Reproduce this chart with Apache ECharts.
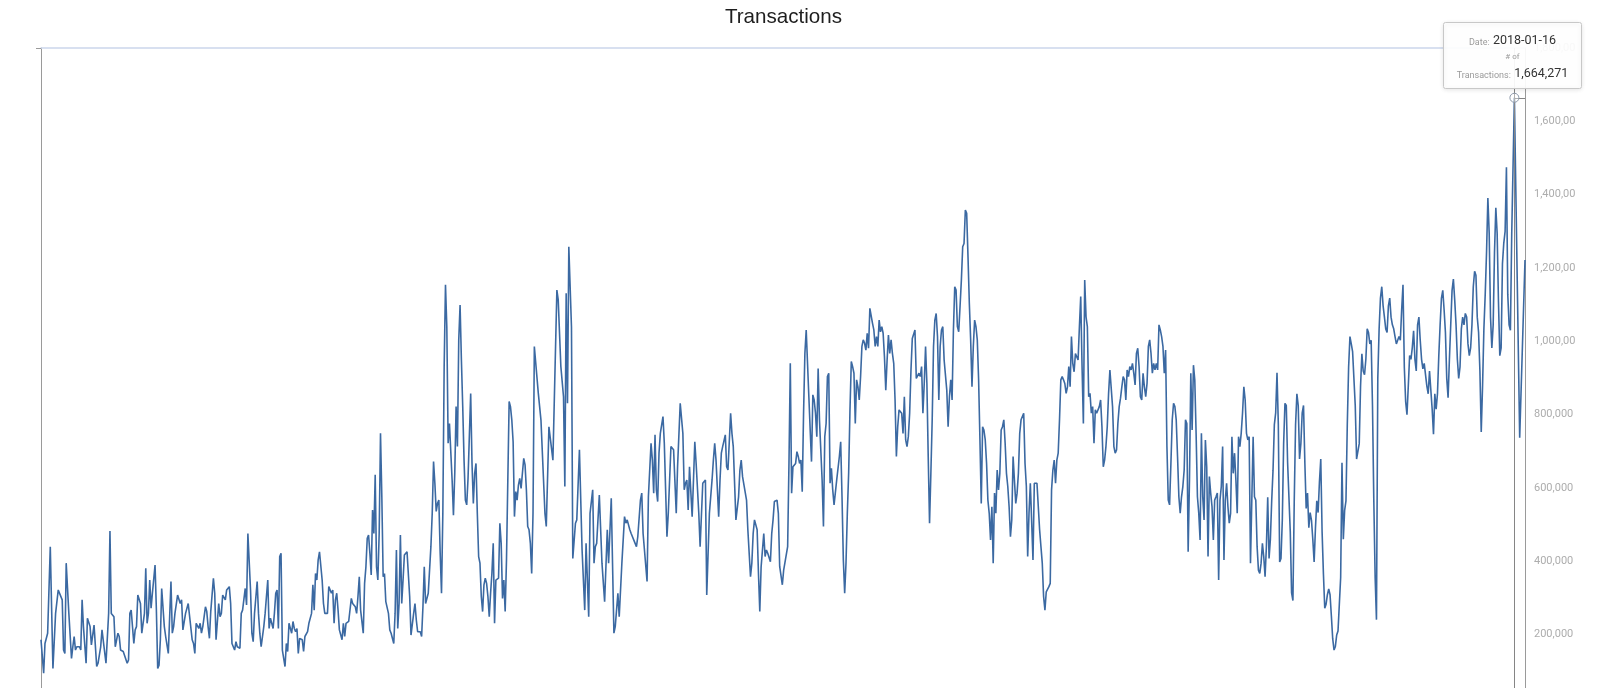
<!DOCTYPE html>
<html>
<head>
<meta charset="utf-8">
<script src="https://cdn.jsdelivr.net/npm/echarts@6/dist/echarts.min.js"></script>
<style>
html,body{margin:0;padding:0;background:#fff;overflow:hidden}
#chart{width:1600px;height:740px}
</style>
</head>
<body>
<div id="chart"></div>
<script>
// ---------------- data ----------------
const chartTitle = 'Transactions';
const startDate = '2015-01-01';          // day 0 of the series
const lastDay = 1119;                     // 2018-01-24
// days since startDate for each reading
const dayOffsets = [
0,2,3,5,6,7,9,11,13,14,16,17,18,19,21,23,24,25,26,27,29,30,31,32,34,35,37,38,40,42,43,45,46,47,49,51,52,53,55,56,58,59,60,62,65,66,67,68,70,71,72,73,75,76,78,79,80,81,82,83,84,86,87,88,89,90,91,93,94,96,97,98,99,100,101,103,105,106,107,108,109,111,112,114,115,116,117,119,120,121,122,124,125,126,127,128,130,131,132,134,135,136,137,139,140,142,143,144,146,147,148,150,151,152,154,155,156,158,159,160,161,163,164,165,166,168,169,170,171,172,173,175,176,177,178,179,180,181,182,183,184,185,186,187,
188,189,190,191,192,193,194,195,197,198,199,200,201,202,204,205,206,207,208,209,210,211,212,213,214,215,216,217,219,220,221,222,223,224,225,227,228,229,230,232,233,234,235,237,238,239,240,241,243,244,245,246,247,248,249,250,251,252,253,254,255,256,257,258,259,260,261,262,263,264,266,267,268,269,270,271,272,273,274,276,277,278,279,281,282,283,284,285,286,287,288,289,290,292,293,294,295,296,297,298,299,300,301,302,303,304,305,306,307,308,310,311,312,313,314,315,316,317,318,319,320,321,322,323,324,325,326,327,328,329,330,331,332,333,334,335,336,337,338,339,340,341,342,343,344,345,346,347,348,349,350,351,352,353,354,355,356,357,358,359,360,361,362,363,364,365,366,367,368,369,370,371,372,
375,377,380,381,383,386,389,390,392,394,395,396,397,398,400,401,403,404,406,408,410,411,413,414,416,417,418,419,421,422,423,424,425,427,428,430,431,432,433,435,436,438,440,441,442,444,445,448,449,450,452,453,454,455,457,458,460,461,462,463,464,465,466,467,469,470,472,473,475,476,477,479,480,482,484,485,486,487,488,489,491,492,493,494,496,497,499,501,502,503,504,506,507,508,509,511,512,513,514,516,517,518,520,521,522,524,526,527,528,529,530,532,533,535,536,537,538,540,541,542,543,545,546,547,548,550,551,552,553,555,556,
557,559,560,561,563,564,565,566,567,569,570,571,572,573,574,575,576,577,579,580,581,582,583,584,585,586,587,589,590,591,592,593,594,595,596,597,598,599,600,602,603,604,605,606,607,608,
609,610,611,612,613,614,615,616,617,618,619,620,621,622,623,624,625,626,627,628,629,630,631,632,633,634,635,636,637,638,639,640,641,642,643,644,645,646,647,648,649,650,651,652,653,654,655,656,657,658,659,660,661,662,663,664,665,666,667,668,669,670,671,672,673,674,675,676,677,678,679,680,681,682,683,684,685,686,687,688,689,690,691,692,693,694,695,696,697,698,699,700,701,702,703,704,705,706,707,708,709,710,711,712,713,714,715,716,717,718,719,720,721,722,723,724,725,726,727,728,729,730,731,732,733,734,735,736,737,738,739,740,741,
742,743,744,745,746,747,748,749,750,751,752,753,754,755,756,757,758,759,760,761,762,763,764,765,766,767,768,769,770,771,772,773,774,775,776,777,778,779,780,781,782,783,784,785,786,787,788,789,790,791,792,793,794,795,796,797,798,799,800,801,802,803,804,805,806,807,808,809,810,811,812,813,814,815,816,817,818,819,820,821,822,823,824,825,826,827,828,829,830,831,832,833,834,835,836,837,838,839,840,841,842,843,844,845,846,847,848,849,850,851,852,853,854,855,856,857,858,859,860,861,862,863,864,865,866,867,868,869,870,871,872,873,874,875,876,877,878,879,880,881,882,883,884,885,886,887,888,889,890,891,892,893,894,895,896,897,898,899,900,901,902,903,904,905,906,907,908,909,910,911,912,913,914,915,916,917,918,919,920,921,922,923,924,
925,926,927,928,929,930,931,932,933,934,935,936,937,938,939,940,
942,943,944,945,946,947,948,949,950,951,952,953,954,955,956,957,958,959,960,961,962,963,964,965,966,967,968,969,970,971,972,973,974,975,976,977,978,979,980,981,982,983,984,985,986,987,988,989,990,991,992,993,994,995,996,997,998,999,1000,1001,1002,1003,1004,1005,1006,1007,1008,1009,1010,1011,1012,1013,1014,1015,1016,1017,1018,1019,1020,1021,1022,1023,1024,1025,1026,1027,1028,1029,1030,1031,1032,1033,1034,1035,1036,1037,1038,1039,1040,1041,1042,1043,1044,1045,1046,1047,1048,1049,1050,1051,1052,1053,1054,1055,1056,1057,1058,1059,1060,1061,1062,1063,1064,1065,1066,1067,1068,1069,1070,1071,1072,1073,1074,1075,1076,1077,1078,1079,1080,1081,1082,1083,1084,1085,1086,1087,1088,1089,1090,1091,1092,1093,1094,1095,1096,1097,1098,1099,1100,1101,1102,1103,1104,1105,1106,1107,1108,1109,
1111,1115,1119
];
// number of transactions per reading
const transactions = [
186000,95000,176000,204000,199000,440000,108000,258000,322000,326000,295000,158000,149000,395000,258000,135000,167000,195000,158000,167000,167000,158000,295000,222000,122000,245000,222000,172000,226000,113000,122000,167000,213000,208000,122000,258000,483000,258000,249000,167000,204000,195000,158000,154000,122000,131000,258000,267000,176000,213000,222000,308000,285000,204000,258000,381000,231000,258000,349000,272000,313000,390000,267000,108000,117000,186000,326000,222000,195000,149000,154000,345000,204000,222000,258000,308000,285000,295000,213000,208000,258000,285000,290000,186000,176000,149000,231000,217000,231000,204000,222000,276000,263000,222000,190000,263000,354000,313000,186000,285000,249000,258000,308000,295000,322000,331000,285000,176000,158000,181000,167000,163000,258000,267000,326000,281000,476000,322000,204000,181000,258000,345000,258000,204000,167000,222000,258000,304000,349000,217000,245000,217000,258000,313000,322000,217000,413000,422000,158000,163000,113000,176000,154000,231000,
231000,204000,236000,217000,208000,217000,149000,190000,186000,154000,195000,195000,208000,231000,258000,336000,267000,367000,349000,404000,426000,422000,349000,285000,258000,254000,258000,331000,313000,322000,231000,295000,313000,267000,213000,186000,231000,195000,231000,236000,240000,299000,285000,276000,258000,304000,358000,267000,204000,340000,385000,463000,472000,422000,363000,540000,476000,636000,385000,349000,476000,749000,576000,358000,367000,290000,285000,258000,213000,204000,176000,258000,431000,217000,285000,472000,285000,349000,417000,426000,422000,304000,199000,258000,285000,240000,208000,213000,208000,195000,276000,385000,285000,313000,308000,440000,531000,672000,613000,536000,558000,567000,422000,313000,531000,931000,1154000,1040000,722000,776000,622000,526000,640000,822000,713000,1004000,1099000,949000,822000,676000,567000,554000,626000,622000,858000,667000,558000,640000,667000,531000,413000,395000,304000,263000,336000,354000,340000,304000,249000,313000,367000,449000,231000,349000,345000,354000,504000,449000,299000,349000,263000,404000,622000,836000,822000,786000,726000,522000,590000,567000,608000,626000,599000,595000,681000,663000,595000,495000,486000,449000,367000,531000,986000,
858000,785000,531000,495000,767000,676000,1140000,1113000,931000,849000,604000,1131000,831000,1258000,1040000,408000,504000,513000,704000,431000,267000,449000,249000,531000,595000,395000,440000,449000,581000,576000,395000,395000,290000,486000,395000,572000,567000,204000,222000,313000,249000,395000,522000,504000,513000,486000,476000,449000,440000,467000,567000,586000,476000,476000,345000,576000,722000,676000,586000,745000,595000,563000,695000,749000,795000,722000,467000,531000,713000,708000,704000,531000,658000,831000,749000,595000,613000,622000,540000,658000,522000,622000,726000,667000,531000,440000,613000,622000,308000,313000,531000,622000,676000,722000,676000,522000,622000,695000,713000,745000,658000,649000,804000,749000,713000,513000,576000,649000,676000,631000,631000,567000,486000,358000,395000,476000,513000,486000,367000,263000,385000,476000,413000,431000,422000,399000,476000,513000,563000,567000,531000,
386000,336000,376000,381000,440000,667000,940000,586000,658000,667000,699000,686000,667000,676000,590000,804000,967000,1031000,849000,758000,672000,854000,840000,804000,740000,926000,786000,622000,495000,740000,776000,904000,913000,613000,654000,595000,554000,554000,622000,686000,726000,576000,404000,313000,395000,531000,
640000,813000,945000,931000,913000,776000,895000,876000,840000,904000,986000,1004000,995000,976000,1022000,981000,1090000,1085000,1049000,1031000,986000,1013000,986000,1058000,1026000,1040000,1022000,958000,867000,949000,1017000,967000,1004000,967000,940000,840000,686000,767000,813000,813000,804000,749000,849000,731000,713000,740000,804000,922000,1008000,1004000,1031000,899000,895000,913000,904000,931000,804000,885000,986000,885000,686000,504000,640000,786000,986000,1058000,1076000,1013000,840000,986000,1031000,1040000,949000,945000,867000,767000,849000,895000,840000,1031000,1149000,1140000,1040000,1026000,1095000,1167000,1258000,1267000,1358000,1349000,1231000,1104000,1004000,876000,986000,1058000,1040000,1004000,895000,731000,558000,767000,758000,731000,667000,567000,531000,458000,549000,395000,586000,531000,649000,595000,640000,758000,767000,786000,722000,640000,604000,549000,467000,513000,686000,622000,558000,586000,640000,749000,786000,790000,804000,
667000,604000,413000,531000,613000,617000,404000,613000,617000,613000,608000,486000,440000,395000,304000,267000,317000,313000,331000,340000,595000,649000,676000,613000,676000,695000,786000,895000,904000,895000,885000,858000,876000,931000,876000,1013000,940000,917000,967000,963000,949000,1040000,1122000,931000,776000,1167000,1067000,1040000,849000,858000,804000,822000,722000,813000,804000,804000,822000,840000,767000,658000,676000,713000,767000,858000,922000,922000,822000,713000,695000,704000,776000,822000,845000,876000,904000,895000,840000,922000,904000,931000,922000,940000,913000,881000,967000,981000,931000,849000,840000,913000,876000,849000,885000,986000,1004000,967000,913000,940000,922000,940000,922000,1045000,1031000,1013000,986000,913000,976000,713000,567000,554000,667000,786000,831000,822000,786000,686000,576000,531000,576000,604000,649000,786000,776000,426000,622000,913000,758000,935000,895000,749000,576000,531000,458000,749000,576000,513000,731000,658000,413000,631000,586000,549000,458000,567000,576000,586000,349000,567000,604000,713000,404000,567000,613000,549000,504000,531000,740000,640000,695000,622000,531000,740000,713000,749000,804000,876000,840000,749000,731000,740000,395000,567000,740000,576000,567000,440000,376000,367000,395000,449000,413000,358000,440000,
575000,408000,460000,565000,648000,773000,805000,914000,773000,398000,408000,512000,721000,831000,825000,669000,
481000,314000,293000,565000,773000,857000,825000,679000,721000,805000,825000,669000,544000,586000,492000,533000,512000,460000,398000,492000,565000,533000,617000,679000,481000,366000,272000,283000,309000,325000,309000,251000,189000,158000,168000,199000,210000,215000,356000,669000,460000,539000,565000,773000,930000,1013000,993000,972000,977000,825000,679000,674000,721000,878000,966000,919000,909000,951000,1034000,1024000,993000,1003000,825000,565000,356000,241000,899000,1034000,1118000,1149000,1097000,1066000,1034000,1024000,1097000,1118000,1066000,1045000,1034000,1013000,993000,1003000,1013000,1003000,1086000,1154000,930000,836000,800000,878000,961000,951000,982000,1029000,951000,919000,1045000,1066000,1003000,951000,925000,940000,935000,878000,857000,919000,919000,815000,747000,857000,815000,857000,961000,1045000,1118000,1139000,1086000,1024000,899000,846000,951000,1045000,1139000,1170000,1113000,1045000,951000,899000,930000,1034000,1066000,1045000,1076000,1066000,993000,961000,982000,1045000,1149000,1191000,1180000,1066000,1024000,919000,753000,878000,1034000,1128000,1243000,1391000,1295000,1066000,982000,1045000,1243000,1364000,1295000,1107000,961000,982000,1212000,1268000,1300000,1475000,1128000,1045000,1030000,1295000,
1664271,737000,1222000
];
const yAxisMax = 1800000;
const yAxisStep = 200000;

// ---------------- chart ----------------
if (dayOffsets.length !== transactions.length) console.error('length mismatch', dayOffsets.length, transactions.length);
const DAY = 86400000;
const t0 = Date.parse(startDate + 'T00:00:00Z');
const points = dayOffsets.map((d, i) => [t0 + d * DAY, transactions[i]]);
let peakIdx = 0;
transactions.forEach((v, i) => { if (v > transactions[peakIdx]) peakIdx = i; });
const peakTime = points[peakIdx][0];
const peakVal = transactions[peakIdx];
const endTime = t0 + lastDay * DAY;
const peakDate = new Date(peakTime).toISOString().slice(0, 10);
const fmt = v => String(v).replace(/\B(?=(\d{3})+(?!\d))/g, ',');

const labelRich = {
  l: {fontSize: 9, fontFamily: 'Roboto', fill: '#9a9a9a', verticalAlign: 'bottom', lineHeight: 15},
  v: {fontSize: 12.5, fontFamily: 'Roboto', fill: '#333333', verticalAlign: 'bottom', lineHeight: 15}
};

const chart = echarts.init(document.getElementById('chart'), null, {renderer: 'canvas'});
chart.setOption({
  animation: false,
  backgroundColor: '#ffffff',
  title: {
    text: chartTitle, left: 783.5, top: 7, padding: 0, textAlign: 'center',
    textStyle: {fontSize: 20.6, fontWeight: 'normal', color: '#1e1e1e', fontFamily: 'Liberation Sans, Arial, sans-serif'}
  },
  grid: {left: 41, right: 75, top: 48, bottom: 32, containLabel: false, outerBoundsMode: 'none'},
  xAxis: {
    type: 'time', position: 'top', min: t0, max: endTime,
    axisLine: {show: true, onZero: false, lineStyle: {color: '#ccd6eb', width: 1.5}},
    axisTick: {show: false}, axisLabel: {show: false}, splitLine: {show: false}, axisPointer: {show: false}
  },
  yAxis: [
    {
      type: 'value', position: 'right', min: 0, max: yAxisMax, interval: yAxisStep,
      axisLine: {show: true, onZero: false, lineStyle: {color: '#9a9a9a', width: 1}},
      axisTick: {show: false}, splitLine: {show: false},
      axisLabel: {
        color: '#adadad', fontSize: 11, fontFamily: 'Roboto, sans-serif', margin: 9,
        formatter: v => fmt(v), width: 45, overflow: 'truncate', ellipsis: ''
      }
    },
    {
      type: 'value', position: 'left', min: 0, max: yAxisMax, interval: yAxisMax,
      axisLine: {show: true, onZero: false, lineStyle: {color: '#9a9a9a', width: 1}},
      axisTick: {show: true, length: 5, lineStyle: {color: '#9a9a9a'}},
      axisLabel: {show: false}, splitLine: {show: false}
    }
  ],
  series: [{
    type: 'line', yAxisIndex: 0, data: points, showSymbol: false, silent: true,
    lineStyle: {color: '#3b69a2', width: 1.6}, itemStyle: {color: '#3b69a2'},
    markLine: {
      silent: true, symbol: 'none', animation: false,
      label: {show: false},
      lineStyle: {color: '#858585', width: 1, type: 'solid'},
      emphasis: {disabled: true},
      data: [
        {xAxis: peakTime},
        [{coord: [peakTime, peakVal]}, {coord: [endTime, peakVal]}]
      ]
    },
    markPoint: {
      silent: true, symbol: 'circle', symbolSize: 9, animation: false,
      label: {show: false},
      itemStyle: {color: 'rgba(255,255,255,0.35)', borderColor: '#8d99aa', borderWidth: 1},
      data: [{coord: [peakTime, peakVal]}]
    }
  }],
  graphic: [{
    type: 'group', x: 1443, y: 22, z: 100, zlevel: 0, silent: true,
    children: [
      {type: 'rect', z: 100, shape: {x: 0.5, y: 0.5, width: 138, height: 66, r: 2},
       style: {fill: 'rgba(255,255,255,0.93)', stroke: '#c8c8c8', lineWidth: 1,
               shadowBlur: 4, shadowOffsetY: 1, shadowColor: 'rgba(0,0,0,0.10)'}},
      {type: 'text', z: 101, x: 69.5, y: 18,
       style: {text: '{l|Date:} {v|' + peakDate + '}', align: 'center', verticalAlign: 'middle',
               textAlign: 'center', textVerticalAlign: 'middle', rich: labelRich}},
      {type: 'text', z: 101, x: 69.5, y: 35,
       style: {text: '# of', fontSize: 8, fontFamily: 'Roboto', fill: '#9a9a9a',
               align: 'center', verticalAlign: 'middle', textAlign: 'center', textVerticalAlign: 'middle'}},
      {type: 'text', z: 101, x: 69.5, y: 51,
       style: {text: '{l|Transactions:} {v|' + fmt(peakVal) + '}', align: 'center', verticalAlign: 'middle',
               textAlign: 'center', textVerticalAlign: 'middle', rich: labelRich}}
    ]
  }]
});
</script>
</body>
</html>
